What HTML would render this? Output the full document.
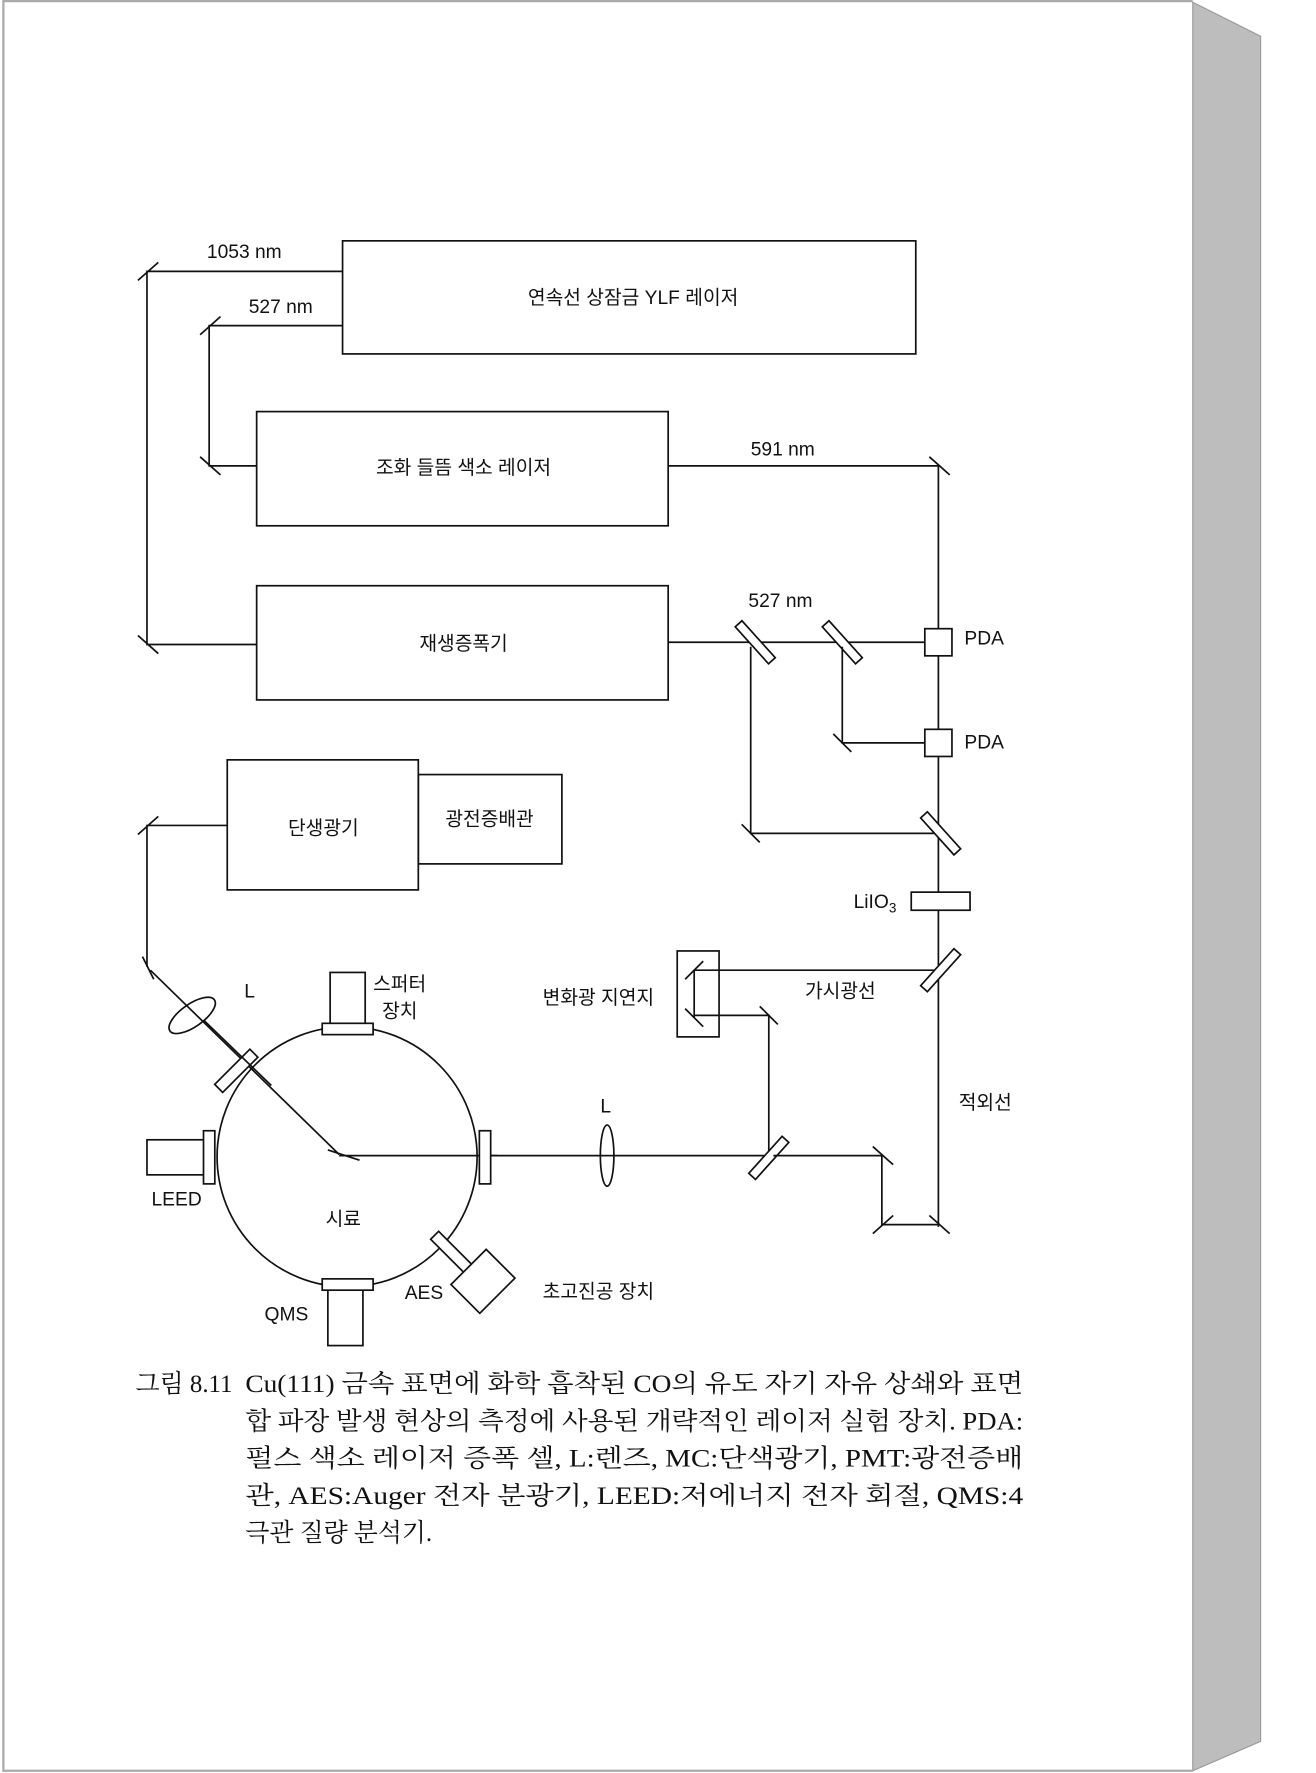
<!DOCTYPE html>
<html><head><meta charset="utf-8"><style>
html,body{margin:0;padding:0;background:#fff;}
svg{display:block;}
text{font-family:"Liberation Sans","Noto Sans CJK KR",sans-serif;fill:#111;}
.cap text{font-family:"Liberation Serif","Noto Serif CJK SC",serif;font-size:22px;}
</style></head><body>
<svg width="1316" height="1773" viewBox="0 0 1164 1568" preserveAspectRatio="none" xmlns="http://www.w3.org/2000/svg">
<rect x="0" y="0" width="1164" height="1568" fill="#fff"/>
<polygon points="1055,2 1115,32 1115,1540 1055,1566" fill="#bdbdbd" stroke="#999" stroke-width="1"/>
<polyline points="1055,1 3,1 3,1566 1055,1566" fill="none" stroke="#aaa" stroke-width="2"/>
<g fill="none" stroke="#111" stroke-width="1.5">
<rect x="303" y="213" width="507" height="100"/>
<rect x="227" y="364" width="364" height="101"/>
<rect x="227" y="518" width="364" height="101"/>
<rect x="201" y="672" width="169" height="115"/>
<rect x="370" y="685" width="127" height="79"/>
<polyline points="303,240 130,240 130,570 227,570"/>
<line x1="122" y1="248" x2="140" y2="232"/>
<line x1="122" y1="562" x2="140" y2="578"/>
<polyline points="303,288 185,288 185,412 227,412"/>
<line x1="177" y1="296" x2="195" y2="280"/>
<line x1="177" y1="404" x2="195" y2="420"/>
<polyline points="591,412 830,412 830,556"/>
<line x1="822" y1="404" x2="840" y2="420"/>
<line x1="591" y1="568" x2="818" y2="568"/>
<rect x="818" y="556" width="24" height="24"/>
<line x1="830" y1="580" x2="830" y2="645"/>
<rect x="818" y="645" width="24" height="24"/>
<line x1="830" y1="669" x2="830" y2="789"/>
<rect x="806" y="789" width="52" height="16"/>
<line x1="830" y1="805" x2="830" y2="1085"/>
<g transform="translate(668,568) rotate(48)"><rect x="-22" y="-4" width="44" height="8" fill="#fff"/></g>
<g transform="translate(745,568) rotate(48)"><rect x="-22" y="-4" width="44" height="8" fill="#fff"/></g>
<polyline points="745,572 745,657 818,657"/>
<line x1="737" y1="649" x2="753" y2="665"/>
<polyline points="664,572 664,737 826,737"/>
<line x1="656" y1="729" x2="672" y2="745"/>
<g transform="translate(832,737) rotate(48)"><rect x="-22" y="-4" width="44" height="8" fill="#fff"/></g>
<g transform="translate(832,858) rotate(-48)"><rect x="-22" y="-4" width="44" height="8" fill="#fff"/></g>
<line x1="826" y1="858" x2="614" y2="858"/>
<rect x="599" y="841" width="37" height="76"/>
<line x1="606" y1="866" x2="622" y2="850"/>
<line x1="606" y1="892" x2="622" y2="908"/>
<line x1="614" y1="858" x2="614" y2="900"/>
<polyline points="614,898 680,898 680,1022"/>
<line x1="672" y1="890" x2="688" y2="906"/>
<g transform="translate(680,1024) rotate(-48)"><rect x="-22" y="-4" width="44" height="8" fill="#fff"/></g>
<line x1="300" y1="1022" x2="676" y2="1022"/>
<line x1="684" y1="1022" x2="780" y2="1022"/>
<ellipse cx="537" cy="1022" rx="6" ry="27" fill="#fff"/>
<line x1="531" y1="1022" x2="543" y2="1022"/>
<polyline points="780,1022 780,1083 830,1083"/>
<line x1="772" y1="1014" x2="790" y2="1030"/>
<line x1="772" y1="1091" x2="790" y2="1075"/>
<line x1="822" y1="1075" x2="840" y2="1091"/>
<polyline points="201,730 130,730 130,855"/>
<line x1="122" y1="738" x2="140" y2="722"/>
<line x1="126" y1="846" x2="136" y2="866"/>
<line x1="133" y1="858" x2="300" y2="1021"/>
<ellipse cx="170" cy="898" rx="24" ry="10" transform="rotate(-35 170 898)"/>
<line x1="290" y1="1017" x2="318" y2="1026"/>
<circle cx="307" cy="1023" r="115"/>
</g>
<g fill="#fff" stroke="#111" stroke-width="1.5">
<rect x="292" y="860" width="31" height="48"/>
<rect x="285" y="905" width="45" height="10"/>
<rect x="130" y="1008" width="53" height="31"/>
<rect x="180" y="1000" width="10" height="47"/>
<rect x="424" y="1000" width="10" height="47"/>
<rect x="290" y="1140" width="31" height="50"/>
<rect x="285" y="1131" width="45" height="10"/>
<g transform="translate(209,947) rotate(-45)"><rect x="-22" y="-5" width="44" height="10"/></g>
<g transform="translate(400,1108) rotate(45)"><rect x="-22" y="-5" width="44" height="10"/></g>
<g transform="translate(418,1124) rotate(45)"><rect x="-5" y="-22" width="36" height="44"/></g>
</g>
<g stroke="#111" stroke-width="1.5"><line x1="180" y1="902" x2="240" y2="960"/><line x1="434" y1="1022" x2="440" y2="1022"/></g>
<g font-size="17">
<text x="183" y="228">1053 nm</text>
<text x="220" y="277">527 nm</text>
<text x="664" y="403">591 nm</text>
<text x="662" y="537">527 nm</text>
<text x="560" y="269" text-anchor="middle">연속선 상잠금 YLF 레이저</text>
<text x="410" y="419" text-anchor="middle">조화 들뜸 색소 레이저</text>
<text x="410" y="575" text-anchor="middle">재생증폭기</text>
<text x="286" y="738" text-anchor="middle">단생광기</text>
<text x="433" y="730" text-anchor="middle">광전증배관</text>
<text x="853" y="570">PDA</text>
<text x="853" y="662">PDA</text>
<text x="755" y="803">LiIO<tspan font-size="12" dy="4">3</tspan></text>
<text x="712" y="882">가시광선</text>
<text x="480" y="888">변화광 지연지</text>
<text x="848" y="981">적외선</text>
<text x="531" y="984">L</text>
<text x="216" y="882">L</text>
<text x="330" y="876">스퍼터</text>
<text x="338" y="900">장치</text>
<text x="134" y="1066">LEED</text>
<text x="288" y="1084">시료</text>
<text x="234" y="1168">QMS</text>
<text x="358" y="1149">AES</text>
<text x="480" y="1148">초고진공 장치</text>
</g>
<g class="cap">
<text x="120" y="1231">그림 8.11</text>
<text x="217" y="1231" textLength="688" lengthAdjust="spacingAndGlyphs">Cu(111) 금속 표면에 화학 흡착된 CO의 유도 자기 자유 상쇄와 표면</text>
<text x="217" y="1264" textLength="688" lengthAdjust="spacingAndGlyphs">합 파장 발생 현상의 측정에 사용된 개략적인 레이저 실험 장치. PDA:</text>
<text x="217" y="1297" textLength="688" lengthAdjust="spacingAndGlyphs">펄스 색소 레이저 증폭 셀, L:렌즈, MC:단색광기, PMT:광전증배</text>
<text x="217" y="1330" textLength="688" lengthAdjust="spacingAndGlyphs">관, AES:Auger 전자 분광기, LEED:저에너지 전자 회절, QMS:4</text>
<text x="217" y="1363">극관 질량 분석기.</text>
</g>
</svg>
</body></html>
